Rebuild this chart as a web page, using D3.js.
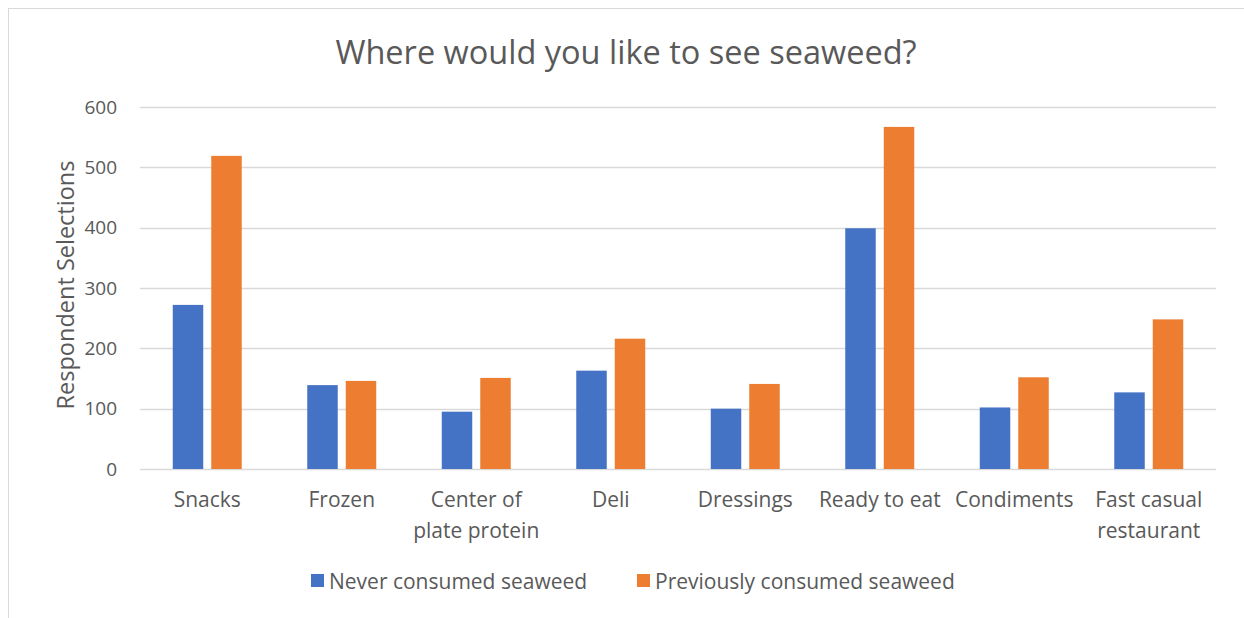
<!DOCTYPE html>
<html>
<head>
<meta charset="utf-8">
<script src="https://cdn.jsdelivr.net/npm/d3@7"></script>
<style>
  html, body { margin: 0; padding: 0; background: #fff; }
  svg { display: block; }
  svg text { font-family: "Open Sans", sans-serif; }
</style>
</head>
<body>
<svg id="chart" width="1244" height="618"></svg>
<script>
// Survey answers: where respondents would like to see seaweed
const categories = ["Snacks", "Frozen", "Center of plate protein", "Deli", "Dressings",
                    "Ready to eat", "Condiments", "Fast casual restaurant"];
const seriesNames = ["Never consumed seaweed", "Previously consumed seaweed"];
const neverConsumed = [272, 139, 95, 163, 100, 399, 102, 127];
const previouslyConsumed = [519, 146, 151, 216, 141, 567, 152, 248];
const yTicks = [0, 100, 200, 300, 400, 500, 600];
const colors = ["#4472C4", "#ED7D31"];

const svg = d3.select("#chart");
const W = 1244, H = 618;
const plot = { left: 140, right: 1216, top: 107, bottom: 469 };
const textColor = "#595959";
const gridColor = "#d9d9d9";

// chart area frame
svg.append("rect")
  .attr("x", 8.5).attr("y", 8.5)
  .attr("width", W + 10).attr("height", H + 10)
  .attr("fill", "#fff").attr("stroke", gridColor).attr("stroke-width", 1);

const rows = categories.map((c, i) => ({ cat: c, values: [neverConsumed[i], previouslyConsumed[i]] }));

const x0 = d3.scaleBand().domain(categories).range([plot.left, plot.right]).paddingInner(0).paddingOuter(0);
const x1 = d3.scaleBand().domain([0, 1]).range([0, x0.bandwidth()]).paddingInner(0.208).paddingOuter(0.851);
const y = d3.scaleLinear().domain([0, 600]).range([plot.bottom, plot.top]);

// gridlines
svg.append("g")
  .selectAll("line").data(yTicks).join("line")
  .attr("x1", plot.left).attr("x2", plot.right)
  .attr("y1", d => Math.round(y(d)) + 0.5).attr("y2", d => Math.round(y(d)) + 0.5)
  .attr("stroke", gridColor).attr("stroke-width", 1.5);

// y axis labels
const yAxis = d3.axisLeft(y).tickValues(yTicks).tickSize(0).tickPadding(0);
svg.append("g")
  .attr("transform", `translate(${plot.left - 23},0)`)
  .call(yAxis)
  .call(g => g.select(".domain").remove())
  .attr("font-family", null)
  .selectAll("text")
  .attr("fill", textColor).attr("font-size", 19);

// bars
svg.append("g")
  .selectAll("g").data(rows).join("g")
  .attr("transform", d => `translate(${x0(d.cat)},0)`)
  .selectAll("rect").data(d => d.values.map((v, k) => ({ v, k }))).join("rect")
  .attr("x", d => x1(d.k))
  .attr("width", x1.bandwidth())
  .attr("y", d => y(d.v))
  .attr("height", d => y(0) - y(d.v))
  .attr("fill", d => colors[d.k]);

// x axis category labels, wrapped to the band width
const xAxis = d3.axisBottom(x0).tickSize(0).tickPadding(0);
const xg = svg.append("g")
  .attr("transform", `translate(0,${plot.bottom})`)
  .call(xAxis)
  .call(g => g.select(".domain").remove())
  .attr("font-family", null);
xg.selectAll("text")
  .attr("fill", textColor).attr("font-size", 21)
  .attr("dy", null)
  .each(function (d) {
    const t = d3.select(this);
    const words = d.split(" ");
    t.text(null);
    const lines = [];
    let line = [];
    const probe = t.append("tspan");
    words.forEach(w => {
      const test = line.concat(w).join(" ");
      probe.text(test);
      if (probe.node().getComputedTextLength() > x0.bandwidth() - 2 && line.length) {
        lines.push(line.join(" "));
        line = [w];
      } else {
        line.push(w);
      }
    });
    lines.push(line.join(" "));
    probe.remove();
    lines.forEach((l, i) => {
      t.append("tspan").attr("x", 0).attr("y", 38 + i * 31).text(l);
    });
  });

// y axis title
svg.append("text")
  .attr("transform", `translate(74,${(plot.top + plot.bottom) / 2 - 3}) rotate(-90)`)
  .attr("text-anchor", "middle")
  .attr("fill", textColor).attr("font-size", 23.5)
  .text("Respondent Selections");

// chart title
svg.append("text")
  .attr("x", 626).attr("y", 64)
  .attr("text-anchor", "middle")
  .attr("fill", textColor).attr("font-size", 32.5)
  .text("Where would you like to see seaweed?");

// legend
const legend = svg.append("g").attr("transform", "translate(0,589)");
const legendX = [311, 637];
seriesNames.forEach((name, i) => {
  legend.append("rect")
    .attr("x", legendX[i]).attr("y", -15)
    .attr("width", 13).attr("height", 13)
    .attr("fill", colors[i]);
  legend.append("text")
    .attr("x", legendX[i] + 18).attr("y", 0)
    .attr("fill", textColor).attr("font-size", 21)
    .text(name);
});
</script>
</body>
</html>
